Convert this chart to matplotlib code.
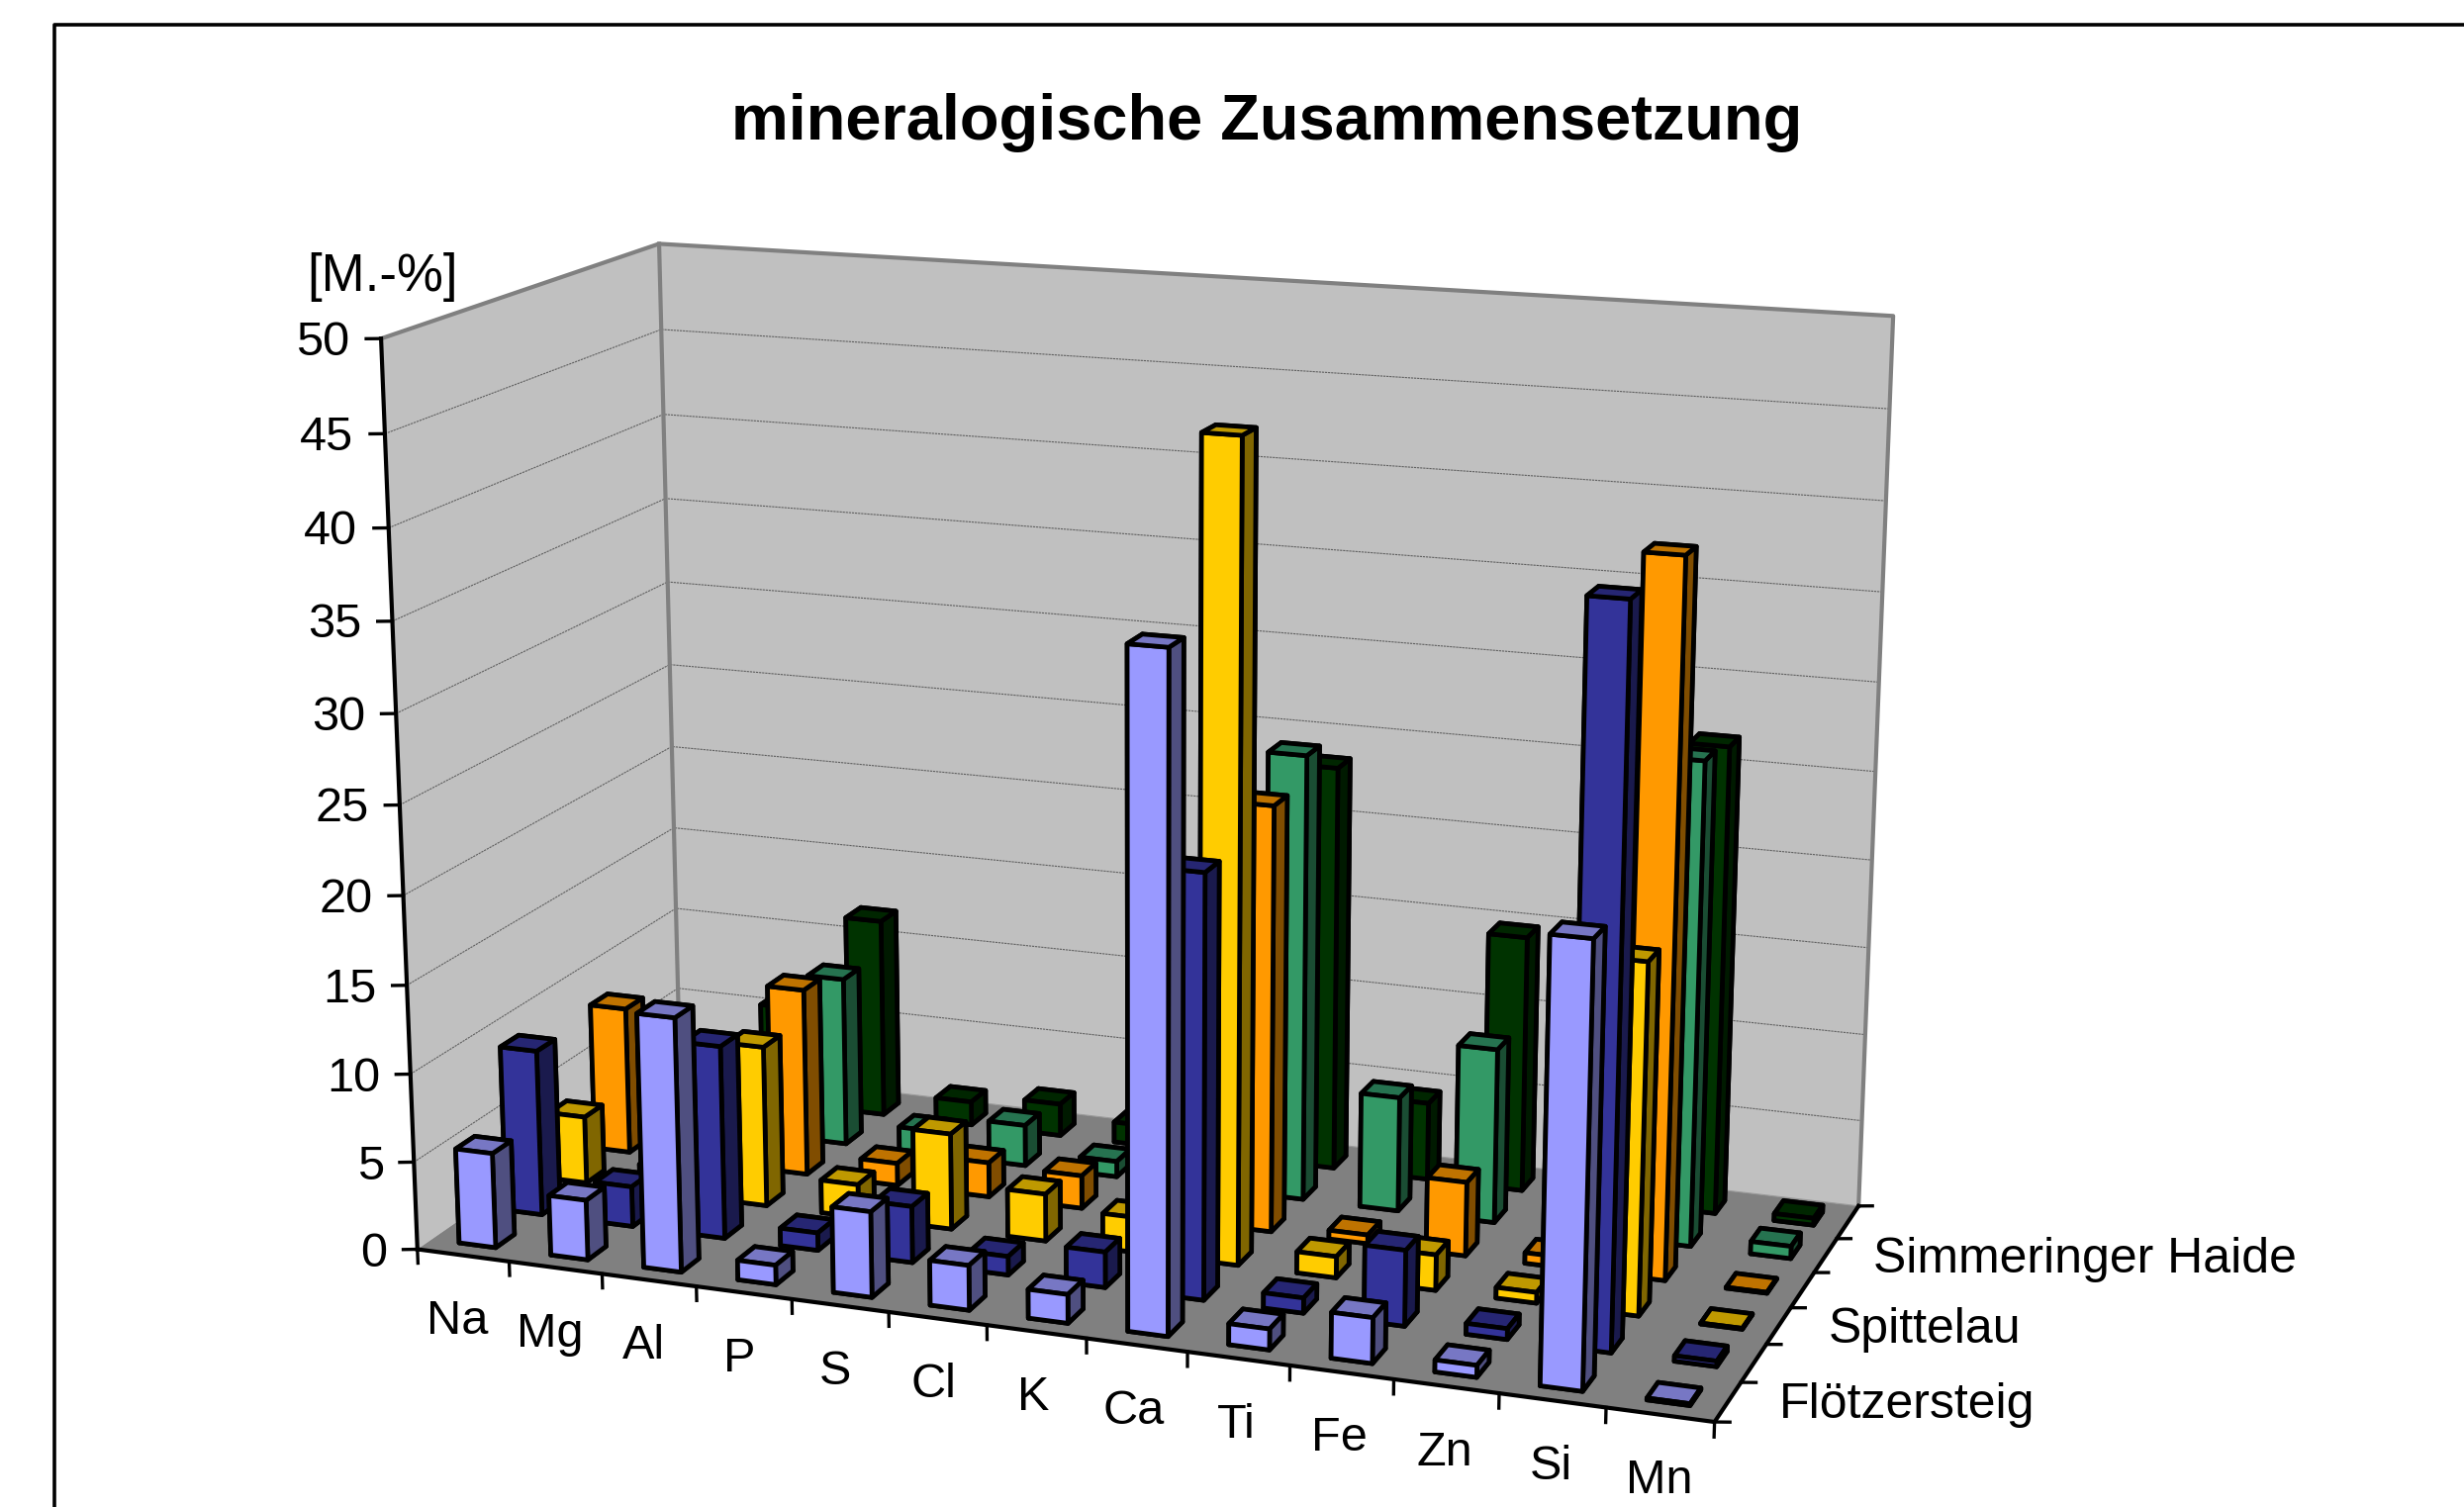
import matplotlib
matplotlib.use('Agg')
import matplotlib.pyplot as plt
from matplotlib.lines import Line2D
from mpl_toolkits.mplot3d import proj3d
from mpl_toolkits.mplot3d.art3d import Poly3DCollection

plt.rcParams['font.family'] = ['Liberation Sans', 'DejaVu Sans']

# ------------------- data -------------------
elements = ['Na', 'Mg', 'Al', 'P', 'S', 'Cl', 'K', 'Ca', 'Ti', 'Fe', 'Zn', 'Si', 'Mn']
series_labels = {0: 'Flötzersteig', 2: 'Spittelau', 4: 'Simmeringer Haide'}
z_ticks = [0, 5, 10, 15, 20, 25, 30, 35, 40, 45, 50]

s1 = [5.4, 3.4, 14.3, 1.1, 4.8, 2.5, 1.6, 36.7, 1.15, 2.5, 0.65, 23.8, 0.1]
s2 = [9.5, 2.3, 11.0, 1.0, 3.2, 1.05, 2.0, 23.5, 0.85, 4.2, 0.6, 39.7, 0.3]
s3 = [3.9, 1.5, 9.25, 1.9, 5.5, 2.7, 2.0, 45.4, 1.2, 2.0, 0.6, 19.4, 0.05]
s4 = [8.6, 1.5, 10.9, 1.3, 2.0, 1.9, 1.5, 24.2, 0.5, 4.2, 0.6, 39.6, 0.05]
s5 = [1.0, 1.5, 9.9, 1.4, 2.4, 0.9, 1.0, 25.6, 6.6, 10.0, 0.6, 27.3, 0.7]
s6 = [1.0, 5.9, 11.8, 1.4, 1.9, 1.2, 1.0, 23.5, 4.5, 14.8, 0.6, 26.7, 0.4]
values = [s1, s2, s3, s4, s5, s6]

front_colors = ['#9999FF', '#333399', '#FFCC00', '#FF9900', '#339966', '#003300']
top_colors = ['#7777C4', '#262673', '#BF9900', '#BF7300', '#267350', '#002600']
side_colors = ['#4F4F80', '#1A1A4D', '#806600', '#804D00', '#1A4D33', '#001A00']

# camera, found once by fitting the corners of the chart box
elev, azim, focal = 15.06134, -70.04848, 0.54914
box_y, box_z = 0.46503, 0.69377
px_scale, px_x0, px_y0 = 9279.24355, 1158.76562, 796.42015

W, H = 2490, 1523
fig = plt.figure(figsize=(W / 100, H / 100), dpi=100, facecolor='white')
ax = fig.add_axes([0, 0, 1, 1], projection='3d', computed_zorder=False)
ax.set_axis_off()
ax.set_xlim(0, 13)
ax.set_ylim(0, 6)
ax.set_zlim(0, 50)
ax.view_init(elev=elev, azim=azim, roll=0)
ax.set_proj_type('persp', focal_length=focal)
ax.set_box_aspect((1, box_y, box_z))

ax.apply_aspect()
xmin, xmax = ax.viewLim.intervalx
ymin, ymax = ax.viewLim.intervaly
side = px_scale * (xmax - xmin)
ax.set_position([(px_x0 + px_scale * xmin) / W, 1 - (px_y0 - px_scale * ymin) / H, side / W, side / H])
M = ax.get_proj()


def label(x, y, z, txt, **kw):
    px, py, _ = proj3d.proj_transform(x, y, z, M)
    ax.text2D(px, py, txt, transform=ax.transData, va='center', **kw)


# ------------------- walls and floor -------------------
left_wall = [(0, 0, 0), (0, 6, 0), (0, 6, 50), (0, 0, 50)]
back_wall = [(0, 6, 0), (13, 6, 0), (13, 6, 50), (0, 6, 50)]
floor = [(0, 0, 0), (13, 0, 0), (13, 6, 0), (0, 6, 0)]
ax.add_collection3d(Poly3DCollection([left_wall, back_wall], facecolors='#C0C0C0', edgecolors='none', zorder=1))
ax.add_collection3d(Poly3DCollection([floor], facecolors='#808080', edgecolors='none', zorder=2))

for z in z_ticks[1:-1]:
    ax.plot([0, 0, 13], [0, 6, 6], [z, z, z], color='#606060', lw=0.8, ls=(0, (2, 0.8)), zorder=3)
ax.plot([0, 13], [6, 6], [0, 0], color='#9A9A9A', lw=0.8, zorder=3)
ax.plot([0, 0, 13, 13], [0, 6, 6, 6], [50, 50, 50, 0], color='#808080', lw=3, zorder=3)
ax.plot([0, 0], [6, 6], [0, 50], color='#808080', lw=3, zorder=3)

# ------------------- axes lines, ticks, labels -------------------
ax.plot([0, 0], [0, 0], [0, 50], color='k', lw=3, zorder=4)
ax.plot([0, 13, 13], [0, 0, 6], [0, 0, 0], color='k', lw=3, zorder=4)
for z in z_ticks:
    ax.plot([-0.127, 0], [-0.053, 0], [z, z], color='k', lw=2.4, zorder=4)
    label(-0.25, -0.15, z - 0.15, str(z), ha='right', fontsize=35)
for i in range(len(elements) + 1):
    ax.plot([i, i], [0, 0], [0, -0.8], color='k', lw=2.4, zorder=4)
for j in range(7):
    ax.plot([13, 13.14], [j, j], [0, 0.1], color='k', lw=2.4, zorder=4)
for i, name in enumerate(elements):
    label(0.84 + i * 0.989, -0.8, -1.95 + i * 0.028, name, ha='center', fontsize=35)
for j, name in series_labels.items():
    label(13.47, j + 0.5, 0.2 - j * 0.03, name, ha='left', fontsize=36)

# ------------------- bars, back to front -------------------
order = 10
for j in range(5, -1, -1):
    for i in range(len(elements)):
        faces = [top_colors[j], top_colors[j], front_colors[j], front_colors[j], side_colors[j], side_colors[j]]
        ax.bar3d(i + 0.3, j + 0.3, 0, 0.4, 0.4, values[j][i], color=faces, edgecolor='k',
                 linewidth=3.4, shade=False, zorder=order)
        order += 1

ax.set_xlim(0, 13)
ax.set_ylim(0, 6)
ax.set_zlim(0, 50)

# ------------------- title, unit, frame -------------------
fig.text(1280 / W, 1 - 124 / H, 'mineralogische Zusammensetzung', ha='center', va='center',
         fontsize=46.8, fontweight='bold')
fig.text(386 / W, 1 - 280 / H, '[M.-%]', ha='center', va='center', fontsize=38)
fig.add_artist(Line2D([55 / W, 55 / W, 1], [0, 1 - 25 / H, 1 - 25 / H], color='k', lw=2.6))

fig.savefig('out.png', dpi=100)
